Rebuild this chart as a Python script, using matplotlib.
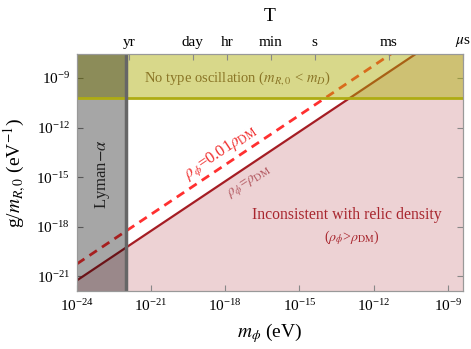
## Relic density / oscillation constraints in the (m_phi, g/m_R0) plane

import matplotlib
matplotlib.use("Agg")
import matplotlib.pyplot as plt
import numpy as np

plt.rcParams['font.family'] = 'serif'
plt.rcParams['font.serif'] = ['Liberation Serif', 'DejaVu Serif']
plt.rcParams['mathtext.fontset'] = 'stix'

## data
m_line = [1e-24, 1e-8]                    # eV
g_relic = [10**-21.25, 10**-5.25]         # rho_phi = rho_DM
g_relic01 = [10**-20.25, 10**-4.25]       # rho_phi = 0.01 rho_DM
m_lyman = 1e-22                           # Lyman-alpha bound
g_band = 10**-10.2                        # m_R,0 < m_D above this

x_ticks = [1e-24, 1e-21, 1e-18, 1e-15, 1e-12, 1e-9]
y_ticks = [1e-21, 1e-18, 1e-15, 1e-12, 1e-9]

## period ticks on top, T -> m = 2 pi hbar / T
hbar = 6.582e-16  # eV s
T_sec = [3.156e7, 86400, 3600, 60, 1, 1e-3, 1e-6]
T_labels = ['yr', 'day', 'hr', 'min', 's', 'ms', r'$\mu$s']
m_T = [2*np.pi*hbar/t for t in T_sec]

xlim = (1e-24, 10**-8.38)
ylim = (10**-21.9, 10**-7.55)

fig = plt.figure(figsize=(4.71, 3.49), dpi=100)
ax = fig.add_axes([0.1635, 0.166, 0.8195, 0.679])

pink = (165/255, 30/255, 40/255)
ax.fill_between(m_line, 1e-30, g_relic, color=pink, alpha=0.2, lw=0, zorder=1)
ax.plot(m_line, g_relic, color='#a51d24', lw=1.6, zorder=2)
ax.plot(m_line, g_relic01, color='#ff3030', lw=2, dashes=(3.2, 2.2), zorder=2)

ax.axhspan(g_band, 1, color='#acae06', alpha=0.47, lw=0, zorder=3)
ax.axvspan(1e-30, m_lyman, color='k', alpha=0.35, lw=0, zorder=4)
ax.axhline(g_band, color='#aeac12', lw=2, zorder=5)
ax.axvline(m_lyman, color='#666666', lw=2.5, zorder=5)

ax.set_xscale('log')
ax.set_yscale('log')
ax.set_xlim(xlim)
ax.set_ylim(ylim)
ax.set_xticks(x_ticks)
ax.set_yticks(y_ticks)
ax.minorticks_off()
ax.tick_params(direction='in', length=4, color='#888888', labelsize=11,
               right=True, pad=5)
for s in ax.spines.values():
    s.set_color('#999999')
    s.set_zorder(6)

ax.set_xlabel(r'$m_\phi$ (eV)', fontsize=14, labelpad=5)
ax.set_ylabel(r'g/$m_{R,0}$ (eV$^{-1}$)', fontsize=14, labelpad=6)

ax2 = ax.twiny()
ax2.set_xscale('log')
ax2.set_xlim(xlim)
ax2.set_xticks(m_T)
ax2.set_xticklabels(T_labels)
ax2.minorticks_off()
ax2.tick_params(direction='in', length=4, color='#888888', labelsize=11, pad=4)
for s in ax2.spines.values():
    s.set_color('#999999')
ax2.set_xlabel('T', fontsize=14, labelpad=10)

## annotations
ax.text(10**-22.97, 10**-14.8, r'Lyman$-\alpha$', rotation=90, ha='center', va='center',
        fontsize=12, color='#222222', zorder=7)
ax.text(10**-17.5, 10**-9, r'No type oscillation ($m_{R,0}$ < $m_D$)', ha='center',
        va='center', fontsize=10.5, color='#8a7526', zorder=7)
ax.text(10**-18.2, 10**-13.55, r'$\rho_\phi$=0.01$\rho_{\mathrm{DM}}$', rotation=34,
        ha='center', va='center', fontsize=12, color='#f03030', zorder=7)
ax.text(10**-17.04, 10**-15.3, r'$\rho_\phi$=$\rho_{\mathrm{DM}}$', rotation=33,
        ha='center', va='center', fontsize=10.5, color='#b35a62', zorder=7)
ax.text(10**-13.07, 10**-17.3, 'Inconsistent with relic density', ha='center',
        va='center', fontsize=11.3, color='#a8262e', zorder=7)
ax.text(10**-12.9, 10**-18.64, r'($\rho_\phi$>$\rho_{\mathrm{DM}}$)', ha='center',
        va='center', fontsize=10, color='#a8262e', zorder=7)

plt.savefig("out.png", dpi=100)
